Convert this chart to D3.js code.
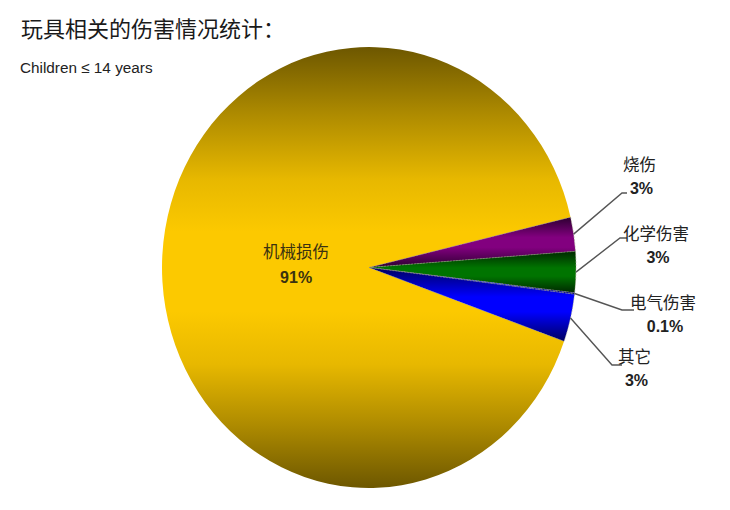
<!DOCTYPE html>
<head>
  <meta charset="utf-8">
  <script src="https://d3js.org/d3.v7.min.js"></script>
  <style>
    body { margin: 0; background: #fff; }
    text { font-family: "Liberation Sans", "Noto Sans CJK SC", sans-serif; }
  </style>
</head>
<body>
  <script type="text/javascript">
    var categories = ["烧伤", "化学伤害", "电气伤害", "其它", "机械损伤"];
    var values = [2.5, 3.0, 0.1, 3.5, 90.9];
    var pctLabels = ["3%", "3%", "0.1%", "3%", "91%"];
    var brightColors = ["#82007f", "#007400", "#0010ff", "#0000ff", "#fcc900"];
    var darkColors = ["#2c0030", "#002800", "#000060", "#000060", "#6d5700"];

    var w = 730;
    var h = 510;
    var cx = 369, cy = 267.5;
    var r = 207;
    var yStretch = 1.065;

    // where each outside label sits (x of text, y of first line, elbow point)
    var labelX = [623, 623, 630, 618];
    var labelY = [165, 234, 303, 357];
    var elbowY = [193, 238, 310, 365];
    var elbowX = [622, 620, 622, 612];

    var svg = d3.select("body")
      .append("svg")
      .attr("width", w)
      .attr("height", h);

    // vertical shading, dark at top and bottom of each slice
    var shade = d3.scaleLinear()
      .domain([0, 0.15, 0.3, 0.42, 0.6, 0.72, 0.86, 1])
      .range([0, 0.45, 0.85, 1, 1, 0.85, 0.45, 0]);
    var shadeSmall = d3.scaleLinear()
      .domain([0, 0.4, 0.6, 1])
      .range([0, 1, 1, 0]);

    var defs = svg.append("defs");
    categories.forEach(function(c, i){
      var g = defs.append("linearGradient")
        .attr("id", "grad" + i)
        .attr("x1", 0).attr("y1", 0)
        .attr("x2", 0).attr("y2", 1);
      var sc = i == 4 ? shade : shadeSmall;
      var mix = d3.interpolateRgb(darkColors[i], brightColors[i]);
      sc.domain().forEach(function(o){
        g.append("stop").attr("offset", o).attr("stop-color", mix(sc(o)));
      });
    });

    svg.append("text")
      .attr("x", 21)
      .attr("y", 36.5)
      .attr("font-size", 22)
      .attr("fill", "#1a1a1a")
      .text("玩具相关的伤害情况统计：");

    svg.append("text")
      .attr("x", 20)
      .attr("y", 73)
      .attr("font-size", 15.3)
      .attr("fill", "#222")
      .text("Children ≤ 14 years");

    var start = 76.8 * Math.PI / 180;
    var pie = d3.pie()
      .sort(null)
      .value(function(d){ return d; })
      .startAngle(start)
      .endAngle(start + 2 * Math.PI);

    var arcs = pie(values);
    var arc = d3.arc().innerRadius(0).outerRadius(r);

    var pieG = svg.append("g")
      .attr("transform", "translate(" + cx + "," + cy + ") scale(1," + yStretch + ")");

    // big slice first, small ones on top
    var order = [4, 0, 1, 2, 3];
    pieG.selectAll("path")
      .data(order.map(function(i){ return arcs[i]; }))
      .enter()
      .append("path")
      .attr("d", arc)
      .attr("fill", function(d){ return "url(#grad" + d.index + ")"; })
      .attr("stroke", function(d){ return d.index == 4 ? "none" : "#9a9a80"; })
      .attr("stroke-width", 0.5)
      .attr("stroke-dasharray", "2,1");

    function edgePoint(d){
      var a = (d.startAngle + d.endAngle) / 2;
      return [cx + r * Math.sin(a), cy - r * Math.cos(a) * yStretch];
    }

    // outside labels with leader lines
    for (var i = 0; i < 4; i++){
      var p = edgePoint(arcs[i]);
      svg.append("polyline")
        .attr("points", [p, [elbowX[i], elbowY[i]], [labelX[i] + 4, elbowY[i]]].map(function(q){ return q.join(","); }).join(" "))
        .attr("fill", "none")
        .attr("stroke", "#555")
        .attr("stroke-width", 1.4);

      var t = svg.append("text")
        .attr("x", labelX[i])
        .attr("y", labelY[i])
        .attr("dy", "0.35em")
        .attr("font-size", 16.5)
        .attr("fill", "#222")
        .text(categories[i]);
      var tw = t.node().getComputedTextLength();
      svg.append("text")
        .attr("x", labelX[i] + tw / 2 + 2)
        .attr("y", labelY[i] + 23)
        .attr("dy", "0.35em")
        .attr("text-anchor", "middle")
        .attr("font-size", 16)
        .attr("font-weight", "bold")
        .attr("fill", "#222")
        .text(pctLabels[i]);
    }

    // label inside the big slice
    var inner = d3.arc().innerRadius(73).outerRadius(73);
    var c = inner.centroid(arcs[4]);
    var lx = cx + c[0], ly = cy + c[1] * yStretch;
    svg.append("text")
      .attr("x", lx)
      .attr("y", ly - 11)
      .attr("dy", "0.35em")
      .attr("text-anchor", "middle")
      .attr("font-size", 16.5)
      .attr("fill", "#3a3210")
      .text(categories[4]);
    svg.append("text")
      .attr("x", lx)
      .attr("y", ly + 14)
      .attr("dy", "0.35em")
      .attr("text-anchor", "middle")
      .attr("font-size", 16)
      .attr("font-weight", "bold")
      .attr("fill", "#3a3210")
      .text(pctLabels[4]);
  </script>
</body>
